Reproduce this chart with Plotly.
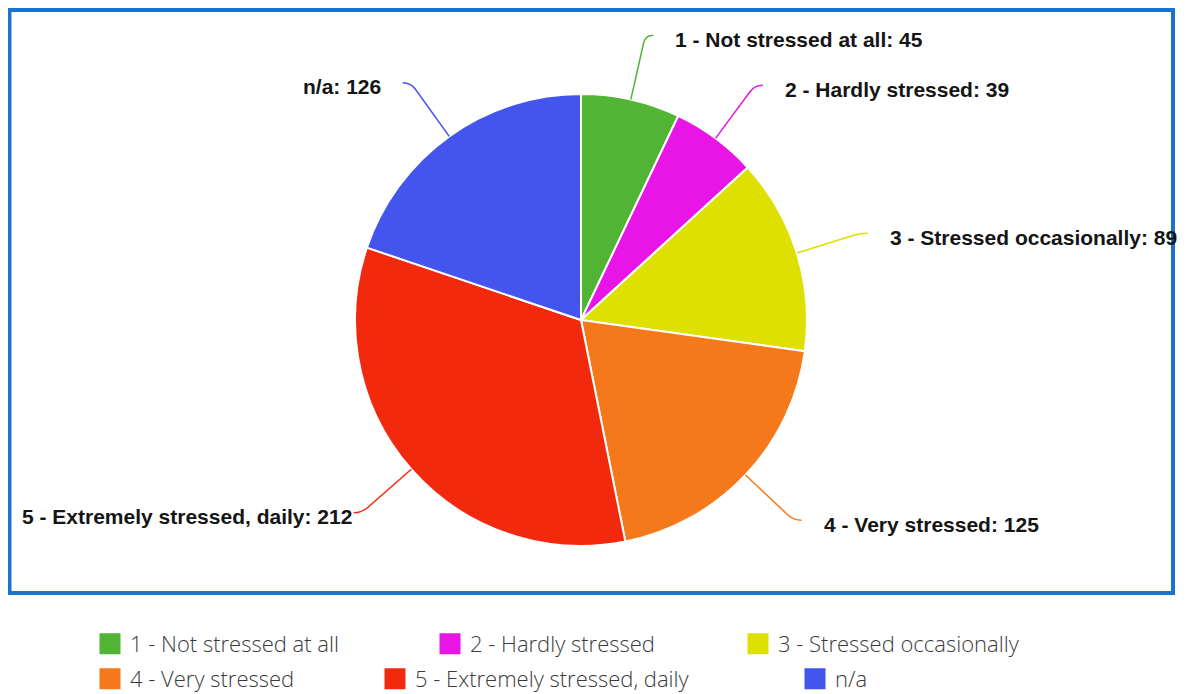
import math
import plotly.graph_objects as go

LABELS = ['1 - Not stressed at all', '2 - Hardly stressed', '3 - Stressed occasionally',
          '4 - Very stressed', '5 - Extremely stressed, daily', 'n/a']
VALUES = [45, 39, 89, 125, 212, 126]
COLORS = ['#52b435', '#e915e6', '#dde000', '#f5781b', '#f2290c', '#4455ee']

W, H = 1192, 694
OFF = 8  # page body margin
CX, CY, R = 581, 320, 226  # pie centre / radius in page px
# legend entry placement (left edge of swatch, row centre), two rows of three
LEG_X = [100, 440, 748, 100, 385, 805]
LEG_Y = [644, 644, 644, 679, 679, 679]


def px(x):
    return (x - OFF) / W


def py(y):
    return 1 - (y - OFF) / H


fig = go.Figure()
fig.add_trace(go.Pie(labels=LABELS, values=VALUES, sort=False, direction='clockwise',
                     marker=dict(colors=COLORS, line=dict(color='white', width=2)),
                     textinfo='none', hoverinfo='label+value', showlegend=False,
                     domain=dict(x=[px(CX - R), px(CX + R)], y=[py(CY + R), py(CY - R)])))

# legend entries (square swatches), one legend box each so rows flow like the original
legends = {}
for i, (lab, col) in enumerate(zip(LABELS, COLORS)):
    key = 'legend' if i == 0 else 'legend%d' % (i + 1)
    fig.add_trace(go.Scatter(x=[None], y=[None], mode='markers', name=lab, legend=key,
                             marker=dict(symbol='square', size=16, color=col,
                                         line=dict(color=col, width=5))))
    legends[key] = dict(orientation='h', x=px(LEG_X[i] - 10), xanchor='left',
                        y=py(LEG_Y[i]), yanchor='middle', itemwidth=30,
                        font=dict(family='Open Sans', size=22, color='#3a3a3a', weight=300))

# connectors + outside labels, placed from each slice's mid angle
shapes = []
annotations = []
total = sum(VALUES)
cum = 0
for lab, val, col in zip(LABELS, VALUES, COLORS):
    mid = (cum + val / 2) / total * 2 * math.pi
    cum += val
    ux, uy = math.sin(mid), -math.cos(mid)
    side = 1 if ux >= 0 else -1
    x0, y0 = CX + R * ux, CY + R * uy
    x1, y1 = CX + (R + 58) * ux, CY + (R + 58) * uy
    xc, yc = CX + (R + 66) * ux, CY + (R + 66) * uy
    x2, y2 = xc + 8 * side, yc
    path = 'M %f,%f L %f,%f Q %f,%f %f,%f' % (px(x0), py(y0), px(x1), py(y1),
                                             px(xc), py(yc), px(x2), py(y2))
    shapes.append(dict(type='path', path=path, xref='paper', yref='paper',
                       line=dict(color=col, width=1.5)))
    text = '%s: %d' % (lab, val)
    tx = x2 + 20 * side
    anchor = 'left' if side > 0 else 'right'
    if side < 0 and tx - len(text) * 10.5 < 20:
        tx, anchor = 20, 'left'
    annotations.append(dict(x=px(tx), y=py(y2 + 4), xref='paper', yref='paper', text=text,
                            showarrow=False, xanchor=anchor, yanchor='middle',
                            font=dict(family='Liberation Sans', size=21, color='#151515', weight='bold')))

shapes.append(dict(type='rect', xref='paper', yref='paper', x0=px(9.5), x1=px(1173),
                   y0=py(593), y1=py(10), line=dict(color='#1a74cb', width=4), layer='above'))

fig.update_layout(width=W, height=H, margin=dict(l=0, r=0, t=0, b=0),
                  paper_bgcolor='white', plot_bgcolor='white',
                  xaxis=dict(visible=False), yaxis=dict(visible=False),
                  shapes=shapes, annotations=annotations, **legends)

fig.write_html("out.html")
